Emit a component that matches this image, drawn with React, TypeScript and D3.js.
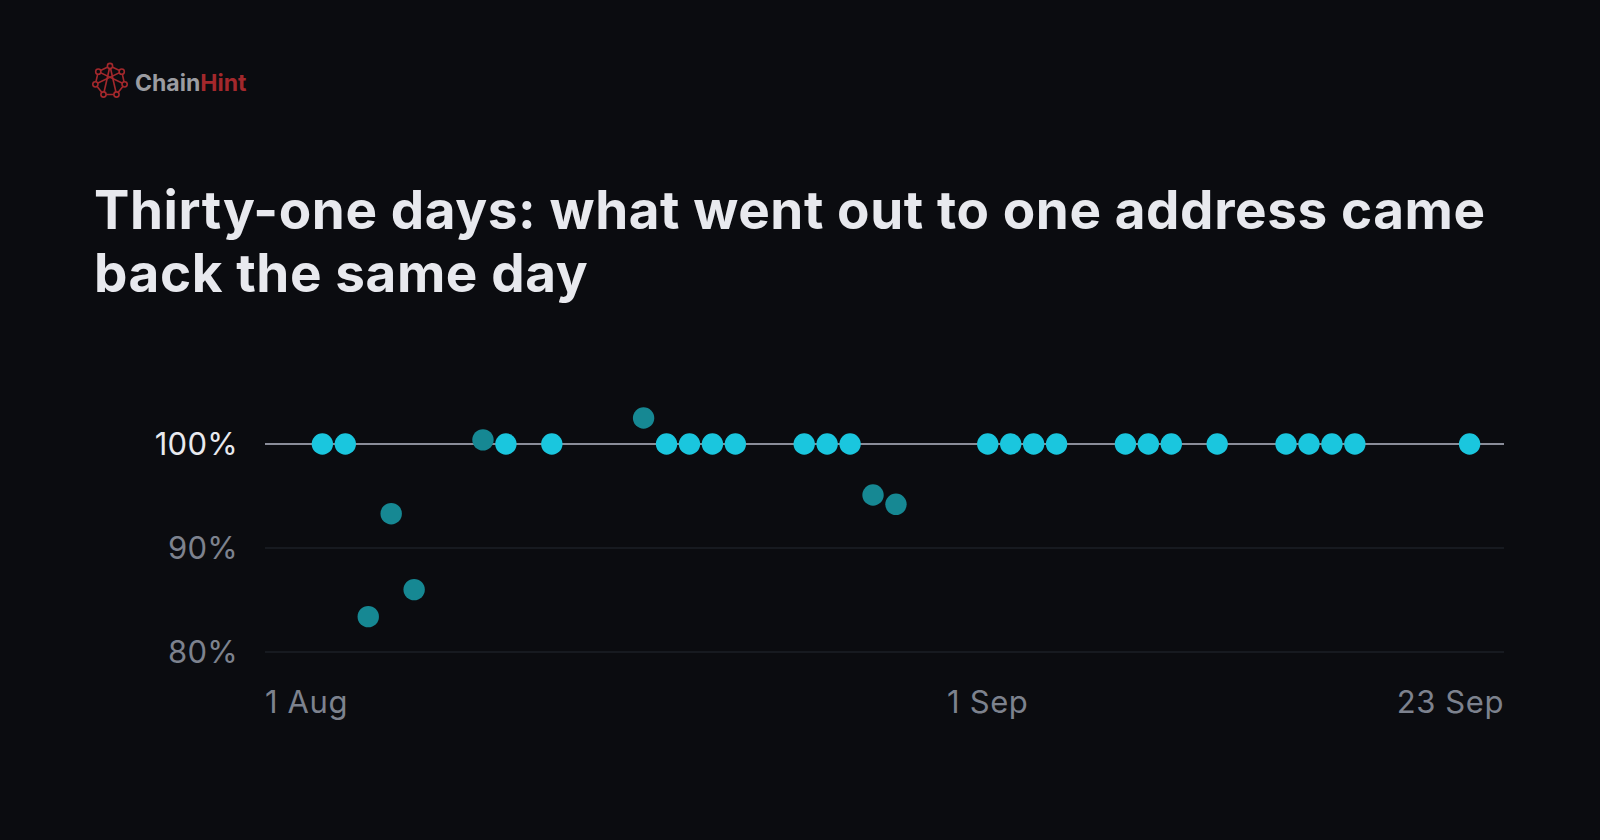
import React from "react";
import * as d3 from "d3";

const dates = [
  "2024-08-03", "2024-08-04", "2024-08-05", "2024-08-06", "2024-08-07",
  "2024-08-10", "2024-08-11", "2024-08-13", "2024-08-17", "2024-08-18",
  "2024-08-19", "2024-08-20", "2024-08-21", "2024-08-24", "2024-08-25",
  "2024-08-26", "2024-08-27", "2024-08-28", "2024-09-01", "2024-09-02",
  "2024-09-03", "2024-09-04", "2024-09-07", "2024-09-08", "2024-09-09",
  "2024-09-11", "2024-09-14", "2024-09-15", "2024-09-16", "2024-09-17",
  "2024-09-22",
];
const returnedPct = [
  100, 100, 83.4, 93.3, 86.0,
  100.4, 100, 100, 102.5, 100,
  100, 100, 100, 100, 100,
  100, 95.1, 94.2, 100, 100,
  100, 100, 100, 100, 100,
  100, 100, 100, 100, 100,
  100,
];
const yTicks = [80, 90, 100];
const yTickLabels = ["80%", "90%", "100%"];
const xTickDates = ["2024-08-01", "2024-09-01", "2024-09-23"];
const xTickLabels = ["1 Aug", "1 Sep", "23 Sep"];
const titleLines = [
  "Thirty-one days: what went out to one address came",
  "back the same day",
];

const W = 1600;
const H = 840;
const BG = "#0b0c10";
const parse = d3.utcParse("%Y-%m-%d");
const noon = (s: string) => d3.utcHour.offset(parse(s) as Date, 12);

export default function App() {
  const x = d3
    .scaleUtc()
    .domain([parse("2024-08-01") as Date, parse("2024-09-24") as Date])
    .range([265, 1504]);
  const y = d3.scaleLinear().domain([80, 100]).range([652, 444]);

  // logo node ring
  const cx = 110, cy = 81, R = 15;
  const nodes = d3.range(7).map((i) => {
    const a = -Math.PI / 2 + (i * 2 * Math.PI) / 7;
    return [cx + R * Math.cos(a), cy + R * Math.sin(a)];
  });
  const chords = [[0, 3], [1, 5], [6, 2], [0, 4]];
  const red = "#a3282c";

  const points = dates.map((d, i) => ({ date: noon(d), v: returnedPct[i] }));

  return (
    <svg
      width={W}
      height={H}
      style={{ display: "block", position: "absolute", left: 0, top: 0, background: BG }}
    >
      <rect x={0} y={0} width={W} height={H} fill={BG} />
      {/* logo */}
      <g stroke={red} strokeWidth={1.6} fill="none">
        <path d={d3.line()([...nodes, nodes[0]] as [number, number][]) || ""} />
        {chords.map(([a, b], i) => (
          <line key={i} x1={nodes[a][0]} y1={nodes[a][1]} x2={nodes[b][0]} y2={nodes[b][1]} />
        ))}
        {nodes.map((n, i) => (
          <circle key={i} cx={n[0]} cy={n[1]} r={2.6} fill={BG} />
        ))}
      </g>
      <text x={135} y={91} fontFamily="Inter" fontWeight={700} fontSize={23}>
        <tspan fill="#9b9ca1">Chain</tspan>
        <tspan fill={red}>Hint</tspan>
      </text>
      {/* title */}
      {titleLines.map((t, i) => (
        <text
          key={i}
          x={94}
          y={229 + i * 63}
          fill="#e8e9ee"
          fontFamily="Inter"
          fontWeight={700}
          fontSize={53}
          letterSpacing={0.6}
        >
          {t}
        </text>
      ))}
      {/* grid */}
      {yTicks.map((t, i) => (
        <g key={t}>
          <line
            x1={265}
            x2={1504}
            y1={y(t)}
            y2={y(t)}
            stroke={t === 100 ? "#8a8d99" : "#1d1f26"}
            strokeWidth={t === 100 ? 2 : 1.5}
          />
          <text
            x={238}
            y={y(t)}
            dy="0.36em"
            textAnchor="end"
            fill={t === 100 ? "#e8e9ee" : "#7d828e"}
            fontFamily="Inter"
            fontSize={31}
            letterSpacing={0.3}
          >
            {yTickLabels[i]}
          </text>
        </g>
      ))}
      {/* x labels */}
      {xTickDates.map((d, i) => {
        const anchor = i === 0 ? "start" : i === xTickDates.length - 1 ? "end" : "middle";
        const px = i === 0 ? x.range()[0] : i === xTickDates.length - 1 ? x.range()[1] : x(noon(d));
        return (
          <text
            key={d}
            x={px}
            y={713}
            textAnchor={anchor}
            fill="#7d828e"
            fontFamily="Inter"
            fontSize={31}
            letterSpacing={0.6}
          >
            {xTickLabels[i]}
          </text>
        );
      })}
      {/* points */}
      {points.map((p, i) => (
        <circle
          key={i}
          cx={x(p.date)}
          cy={y(p.v)}
          r={10.7}
          fill={p.v === 100 ? "#1ac6de" : "#168893"}
        />
      ))}
    </svg>
  );
}
